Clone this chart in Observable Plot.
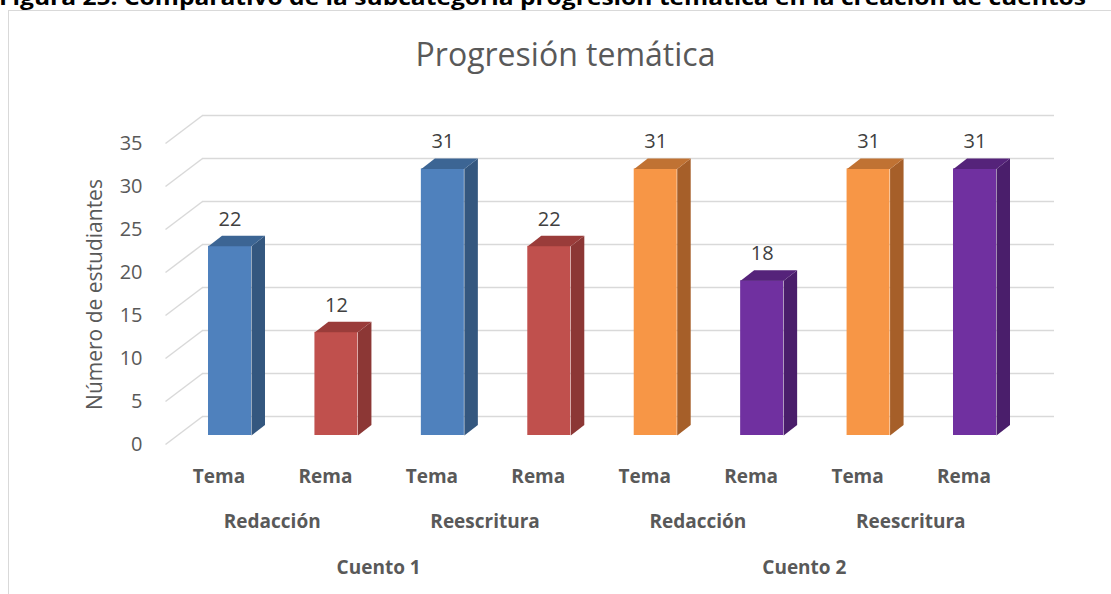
<!DOCTYPE html>
<html>
<head>
<meta charset="utf-8">
<script src="https://cdn.jsdelivr.net/npm/d3@7"></script>
<script src="https://cdn.jsdelivr.net/npm/@observablehq/plot@0.6"></script>
<style>
  html, body { margin: 0; padding: 0; background: #fff; }
  body { width: 1111px; height: 594px; position: relative; overflow: hidden; font-family: "Open Sans", sans-serif; }
  #frame { position: absolute; left: 8px; top: 10px; width: 1200px; height: 700px;
           border-left: 1.5px solid #d9d9d9; border-top: 1.5px solid #d9d9d9; }
  #chart { position: absolute; left: 0; top: 0; }
  #caption { position: absolute; left: 0; top: 0; }
</style>
</head>
<body>
<div id="frame"></div>
<div id="chart"></div>
<svg id="caption" width="1111" height="20"></svg>
<script>
// ---------- data ----------
const captionText = "Figura 25. Comparativo de la subcategoría progresión temática en la creación de cuentos";
const chartTitle = "Progresión temática";
const yAxisTitle = "Número de estudiantes";
const categories = ["Tema", "Rema", "Tema", "Rema", "Tema", "Rema", "Tema", "Rema"];
const activities = ["Redacción", "Redacción", "Reescritura", "Reescritura", "Redacción", "Redacción", "Reescritura", "Reescritura"];
const stories = ["Cuento 1", "Cuento 1", "Cuento 1", "Cuento 1", "Cuento 2", "Cuento 2", "Cuento 2", "Cuento 2"];
const values = [22, 12, 31, 22, 31, 18, 31, 31];
const yTicks = [0, 5, 10, 15, 20, 25, 30, 35];

// ---------- styles ----------
const palette = {
  "Cuento 1|Tema": {front: "#4f81bd", side: "#34577f", top: "#3c6594"},
  "Cuento 1|Rema": {front: "#c0504d", side: "#8c3735", top: "#9a3c3a"},
  "Cuento 2|Tema": {front: "#f79646", side: "#a65f29", top: "#c07233"},
  "Cuento 2|Rema": {front: "#7030a0", side: "#4a1e6b", top: "#55237a"}
};
const W = 1111, H = 594;
const xDomain = [0, 7], xRange = [229.5, 974.5];
const yDomain = [0, 35], yRange = [435, 134];
const X = d3.scaleLinear().domain(xDomain).range(xRange);
const Y = d3.scaleLinear().domain(yDomain).range(yRange);
const pxX = px => X.invert(px);          // pixel -> data (x)
const pxY = px => Y.invert(px);          // pixel -> data (y)
const unitX = (xRange[1] - xRange[0]) / (xDomain[1] - xDomain[0]);
const unitY = (yRange[0] - yRange[1]) / (yDomain[1] - yDomain[0]);
const halfW = 21.5 / unitX;              // half bar width
const depthX = 13.5 / unitX, depthY = 10.5 / unitY;  // 3D bar depth
const backDY = 19 / unitY;               // back wall offset above bar baseline
const frontDY = 9 / unitY;               // front floor edge below bar baseline
const backX1 = pxX(202), backX2 = pxX(1054), frontX = pxX(165);
const textGray = "#595959";

// ---------- derived tables ----------
const bars = values.map((v, i) => ({
  i, v, cat: categories[i], act: activities[i], story: stories[i],
  colors: palette[stories[i] + "|" + categories[i]]
}));
const faces = [];
bars.forEach(b => {
  const l = b.i - halfW, r = b.i + halfW;
  [[r, 0], [r + depthX, depthY], [r + depthX, b.v + depthY], [r, b.v]]
    .forEach(([x, y]) => faces.push({id: "s" + b.i, x, y, fill: b.colors.side}));
  [[l, b.v], [r, b.v], [r + depthX, b.v + depthY], [l + depthX, b.v + depthY]]
    .forEach(([x, y]) => faces.push({id: "t" + b.i, x, y, fill: b.colors.top}));
});
const level2 = d3.groups(bars, b => b.story + "|" + b.act)
  .map(([k, g]) => ({x: d3.mean(g, b => b.i), text: g[0].act}));
const level3 = d3.groups(bars, b => b.story)
  .map(([k, g]) => ({x: d3.mean(g, b => b.i), text: k}));

const chart = Plot.plot({
  width: W, height: H,
  marginTop: 0, marginBottom: 0, marginLeft: 0, marginRight: 0,
  style: {fontFamily: "'Open Sans', sans-serif", background: "transparent"},
  x: {type: "linear", domain: xDomain, range: xRange, axis: null},
  y: {type: "linear", domain: yDomain, range: yRange, axis: null},
  color: {type: "identity"},
  marks: [
    // back wall gridlines
    Plot.ruleY(yTicks, {y: d => d + backDY, x1: backX1, x2: backX2, stroke: "#d9d9d9", strokeWidth: 1.5}),
    // floor diagonals
    Plot.link(yTicks, {x1: frontX, y1: d => d - frontDY, x2: backX1, y2: d => d + backDY, stroke: "#d9d9d9", strokeWidth: 1.5}),
    // y tick labels
    Plot.text(yTicks, {x: pxX(142), y: d => d - frontDY, text: d => String(d), textAnchor: "end", fontSize: 20, fill: textGray}),
    // y axis title
    Plot.text([yAxisTitle], {x: pxX(95), y: pxY(294), text: d => d, rotate: -90, fontSize: 21, fill: textGray}),
    // chart title
    Plot.text([chartTitle], {x: pxX(565), y: pxY(55), text: d => d, fontSize: 32, fill: textGray}),
    // bars: front faces
    Plot.rect(bars, {x1: d => d.i - halfW, x2: d => d.i + halfW, y1: 0, y2: "v", fill: d => d.colors.front}),
    // bars: side and top faces
    Plot.line(faces, {x: "x", y: "y", z: "id", fill: "fill", stroke: null}),
    // value labels
    Plot.text(bars, {x: "i", y: "v", dy: -27, text: d => String(d.v), fontSize: 20, fill: "#404040"}),
    // category labels (3 levels)
    Plot.text(bars, {x: "i", y: pxY(476), dx: -11, text: "cat", fontSize: 19, fontWeight: "bold", fill: textGray}),
    Plot.text(level2, {x: "x", y: pxY(521), dx: -11, text: "text", fontSize: 19, fontWeight: "bold", fill: textGray}),
    Plot.text(level3, {x: "x", y: pxY(567), dx: -11, text: "text", fontSize: 19, fontWeight: "bold", fill: textGray})
  ]
});
document.getElementById("chart").appendChild(chart);

// figure caption (cut off at the top in the reference)
const cap = d3.select("#caption");
cap.append("text")
  .attr("x", -1).attr("y", 5)
  .attr("font-family", "'Open Sans', sans-serif")
  .attr("font-weight", "bold")
  .attr("font-size", 22)
  .attr("fill", "#000")
  .attr("textLength", 1087)
  .attr("lengthAdjust", "spacingAndGlyphs")
  .text(captionText);
</script>
</body>
</html>
